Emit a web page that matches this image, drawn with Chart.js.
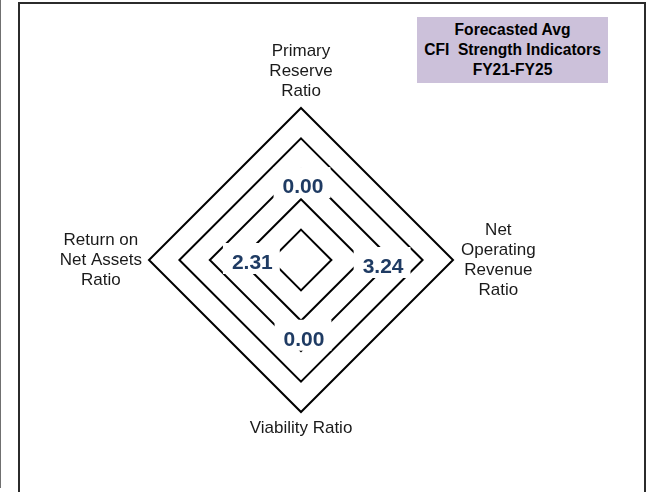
<!DOCTYPE html>
<html>
<head>
<meta charset="utf-8">
<script src="https://cdn.jsdelivr.net/npm/chart.js@4.4.1/dist/chart.umd.min.js"></script>
<style>
  html, body { margin: 0; padding: 0; background: #fff; width: 647px; height: 492px; overflow: hidden; }
  #wrap { position: relative; width: 647px; height: 492px; }
  #wrap canvas { position: absolute; left: 0; top: 0; }
  .frame { position: absolute; left: 18px; top: 2px; width: 624px; height: 520px; border: 2px solid #2b2b2b; pointer-events: none; }
  .edge { position: absolute; left: 0; top: 0; width: 1px; height: 488px; background: #707070; }
  .title {
    position: absolute; left: 417px; top: 17px; width: 191px; height: 66px;
    box-sizing: border-box; padding-top: 3px;
    background: #CCC1DA; color: #000;
    font: bold 15.6px "Liberation Sans", Arial, sans-serif; line-height: 20px;
    text-align: center; white-space: pre;
  }
</style>
</head>
<body>
<div id="wrap">
  <canvas id="radar" width="647" height="492"></canvas>
  <div class="edge"></div>
  <div class="frame"></div>
  <div class="title">Forecasted Avg
CFI  Strength Indicators
FY21-FY25</div>
</div>
<script>
// Indicator axes, clockwise from the top
const axisLabels = [
  ['Primary', 'Reserve', 'Ratio'],
  ['Net', 'Operating', 'Revenue', 'Ratio'],
  ['Viability Ratio'],
  ['Return on', 'Net Assets', 'Ratio']
];
// Forecasted average score per indicator
const avgValues = [0.00, 3.24, 0.00, 2.31];
// Radar scale rings
const scaleMin = 0;
const scaleMax = 5;
const scaleStep = 1;

// Where each value callout sits along its axis (scale units) and a small nudge in px
const calloutRadius = [2.43, 2.70, 2.59, 1.60];
const calloutNudge = [[2, 0], [0, 6], [3, 0], [0, 2]];
// Gap between outer ring and axis title, px
const axisTitleGap = [7, 8, 6, 7];

const FONT = '"Liberation Sans", Arial, sans-serif';

const radarText = {
  id: 'radarText',
  afterDatasetsDraw(chart) {
    const s = chart.scales.r;
    const ctx = chart.ctx;
    ctx.save();

    // value callouts on white boxes
    ctx.font = 'bold 21px ' + FONT;
    ctx.textAlign = 'center';
    ctx.textBaseline = 'middle';
    avgValues.forEach((v, i) => {
      const p = s.getPointPositionForValue(i, calloutRadius[i]);
      const x = p.x + calloutNudge[i][0];
      const y = p.y + calloutNudge[i][1];
      const txt = v.toFixed(2);
      const w = ctx.measureText(txt).width;
      ctx.fillStyle = '#ffffff';
      ctx.fillRect(x - w / 2 - 9, y - 19, w + 16, 31);
      ctx.fillStyle = '#1F3B63';
      ctx.fillText(txt, x, y + 1);
    });

    // axis titles, centred multi-line blocks
    ctx.font = '17px ' + FONT;
    ctx.fillStyle = '#1a1a1a';
    const lh = 20;
    axisLabels.forEach((lines, i) => {
      const p = s.getPointPosition(i, s.drawingArea + axisTitleGap[i]);
      const bw = Math.max(...lines.map(l => ctx.measureText(l).width));
      const bh = lines.length * lh;
      const dx = p.x - s.xCenter;
      const dy = p.y - s.yCenter;
      let cx = p.x, top;
      if (Math.abs(dx) < 1) {
        top = dy < 0 ? p.y - bh : p.y;
      } else {
        cx = dx > 0 ? p.x + bw / 2 : p.x - bw / 2;
        top = p.y - bh / 2;
      }
      lines.forEach((l, k) => ctx.fillText(l, cx, top + lh * (k + 0.5)));
    });

    ctx.restore();
  }
};

new Chart(document.getElementById('radar'), {
  type: 'radar',
  data: {
    labels: axisLabels.map(l => l.join(' ')),
    datasets: [{
      label: 'Forecasted Avg',
      data: avgValues,
      borderWidth: 0,
      borderColor: 'rgba(0,0,0,0)',
      backgroundColor: 'rgba(0,0,0,0)',
      fill: false,
      pointRadius: 0,
      pointHoverRadius: 0
    }]
  },
  options: {
    responsive: false,
    animation: false,
    devicePixelRatio: 1,
    layout: { padding: { left: 149, top: 108, right: 193, bottom: 79 } },
    plugins: { legend: { display: false }, tooltip: { enabled: false } },
    scales: {
      r: {
        min: scaleMin,
        max: scaleMax,
        ticks: { display: false, stepSize: scaleStep },
        grid: { circular: false, color: '#000000', lineWidth: 2 },
        angleLines: { display: false },
        pointLabels: { display: false }
      }
    }
  },
  plugins: [radarText]
});
</script>
</body>
</html>
